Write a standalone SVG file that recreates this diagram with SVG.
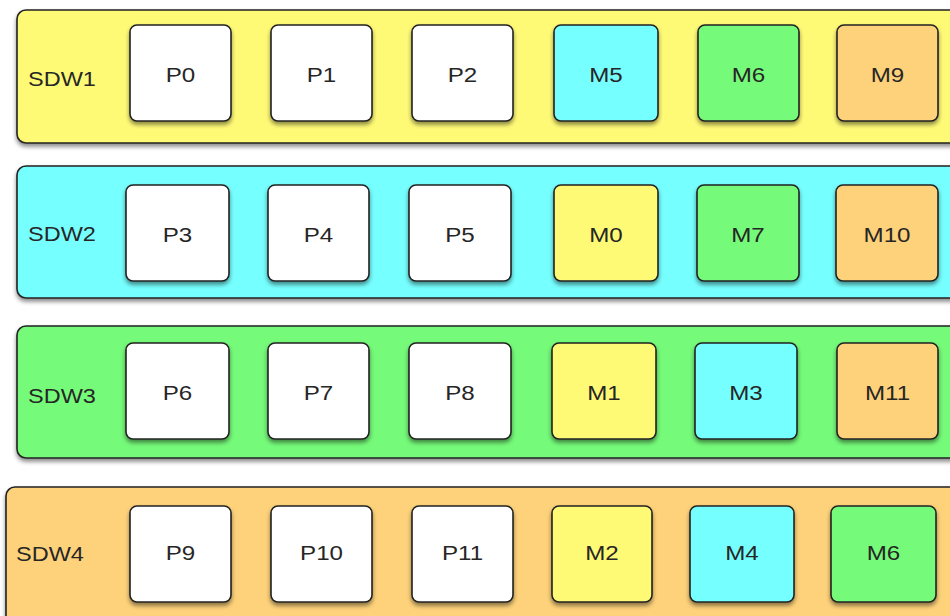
<svg xmlns="http://www.w3.org/2000/svg" width="950" height="616" viewBox="0 0 950 616">
<defs>
<filter id="sh" x="-10%" y="-10%" width="120%" height="130%">
<feDropShadow dx="0" dy="3" stdDeviation="2" flood-color="#000" flood-opacity="0.45"/>
</filter>
<style>
.c{stroke:#222;stroke-width:1.6;filter:url(#sh)}
.b{stroke:#222;stroke-width:1.6;filter:url(#sh)}
.w{fill:#ffffff}.y{fill:#fffa76}.cy{fill:#76ffff}.g{fill:#74fa79}.o{fill:#fed27a}
text{font-family:"Liberation Sans",Arial,Helvetica,sans-serif;font-size:21px;fill:#262626}
.m{text-anchor:middle}
</style>
</defs>
<rect width="950" height="616" fill="#fff"/>
<g id="connectors"></g>

<g id="SDW1">
<rect class="c y" x="17" y="10" width="960" height="133" rx="9"/>
<text transform="translate(28,86) scale(1.12,1)">SDW1</text>
</g>
<g id="SDW1-P0"><rect class="b w" x="130" y="25" width="101" height="96" rx="7"/><text class="m" transform="translate(180.5,82) scale(1.15,1)">P0</text></g>
<g id="SDW1-P1"><rect class="b w" x="271" y="25" width="101" height="96" rx="7"/><text class="m" transform="translate(321.5,82) scale(1.15,1)">P1</text></g>
<g id="SDW1-P2"><rect class="b w" x="412" y="25" width="101" height="96" rx="7"/><text class="m" transform="translate(462.5,82) scale(1.15,1)">P2</text></g>
<g id="SDW1-M5"><rect class="b cy" x="554" y="25" width="104" height="96" rx="7"/><text class="m" transform="translate(606,82) scale(1.15,1)">M5</text></g>
<g id="SDW1-M6"><rect class="b g" x="698" y="25" width="101" height="96" rx="7"/><text class="m" transform="translate(748.5,82) scale(1.15,1)">M6</text></g>
<g id="SDW1-M9"><rect class="b o" x="837" y="25" width="101" height="96" rx="7"/><text class="m" transform="translate(887.5,82) scale(1.15,1)">M9</text></g>

<g id="SDW2">
<rect class="c cy" x="17" y="166" width="960" height="132" rx="9"/>
<text transform="translate(28,241) scale(1.12,1)">SDW2</text>
</g>
<g id="SDW2-P3"><rect class="b w" x="126" y="185" width="103" height="96" rx="7"/><text class="m" transform="translate(177.5,242) scale(1.15,1)">P3</text></g>
<g id="SDW2-P4"><rect class="b w" x="268" y="185" width="101" height="96" rx="7"/><text class="m" transform="translate(318.5,242) scale(1.15,1)">P4</text></g>
<g id="SDW2-P5"><rect class="b w" x="409" y="185" width="102" height="96" rx="7"/><text class="m" transform="translate(460,242) scale(1.15,1)">P5</text></g>
<g id="SDW2-M0"><rect class="b y" x="554" y="185" width="104" height="96" rx="7"/><text class="m" transform="translate(606,242) scale(1.15,1)">M0</text></g>
<g id="SDW2-M7"><rect class="b g" x="697" y="185" width="102" height="96" rx="7"/><text class="m" transform="translate(748,242) scale(1.15,1)">M7</text></g>
<g id="SDW2-M10"><rect class="b o" x="836" y="185" width="102" height="96" rx="7"/><text class="m" transform="translate(887,242) scale(1.15,1)">M10</text></g>

<g id="SDW3">
<rect class="c g" x="17" y="326" width="960" height="132" rx="9"/>
<text transform="translate(28,403) scale(1.12,1)">SDW3</text>
</g>
<g id="SDW3-P6"><rect class="b w" x="126" y="343" width="103" height="96" rx="7"/><text class="m" transform="translate(177.5,400) scale(1.15,1)">P6</text></g>
<g id="SDW3-P7"><rect class="b w" x="268" y="343" width="101" height="96" rx="7"/><text class="m" transform="translate(318.5,400) scale(1.15,1)">P7</text></g>
<g id="SDW3-P8"><rect class="b w" x="409" y="343" width="102" height="96" rx="7"/><text class="m" transform="translate(460,400) scale(1.15,1)">P8</text></g>
<g id="SDW3-M1"><rect class="b y" x="552" y="343" width="104" height="96" rx="7"/><text class="m" transform="translate(604,400) scale(1.15,1)">M1</text></g>
<g id="SDW3-M3"><rect class="b cy" x="695" y="343" width="102" height="96" rx="7"/><text class="m" transform="translate(746,400) scale(1.15,1)">M3</text></g>
<g id="SDW3-M11"><rect class="b o" x="837" y="343" width="101" height="96" rx="7"/><text class="m" transform="translate(887.5,400) scale(1.15,1)">M11</text></g>

<g id="SDW4">
<rect class="c o" x="6" y="487" width="970" height="150" rx="9"/>
<text transform="translate(16,561) scale(1.12,1)">SDW4</text>
</g>
<g id="SDW4-P9"><rect class="b w" x="130" y="506" width="101" height="96" rx="7"/><text class="m" transform="translate(180.5,560) scale(1.15,1)">P9</text></g>
<g id="SDW4-P10"><rect class="b w" x="271" y="506" width="101" height="96" rx="7"/><text class="m" transform="translate(321.5,560) scale(1.15,1)">P10</text></g>
<g id="SDW4-P11"><rect class="b w" x="412" y="506" width="101" height="96" rx="7"/><text class="m" transform="translate(462.5,560) scale(1.15,1)">P11</text></g>
<g id="SDW4-M2"><rect class="b y" x="552" y="506" width="100" height="96" rx="7"/><text class="m" transform="translate(602,560) scale(1.15,1)">M2</text></g>
<g id="SDW4-M4"><rect class="b cy" x="690" y="506" width="104" height="96" rx="7"/><text class="m" transform="translate(742,560) scale(1.15,1)">M4</text></g>
<g id="SDW4-M6"><rect class="b g" x="831" y="506" width="105" height="96" rx="7"/><text class="m" transform="translate(883.5,560) scale(1.15,1)">M6</text></g>
</svg>
